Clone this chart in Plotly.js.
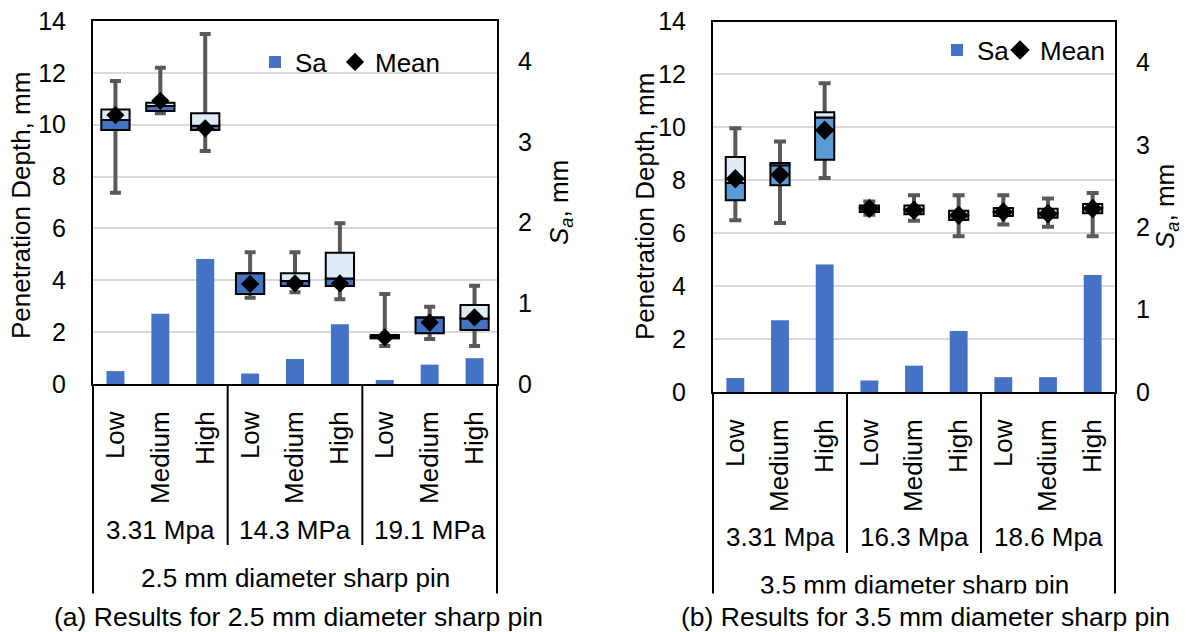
<!DOCTYPE html>
<html>
<head>
<meta charset="utf-8">
<script src="https://cdn.plot.ly/plotly-3.0.1.min.js"></script>
<style>html,body{margin:0;padding:0;background:#fff;}#chart{width:1191px;height:632px;}</style>
</head>
<body>
<div id="chart"></div>
<script>
// ---- data ----
const levels = ['Low', 'Medium', 'High'];

// (a) 2.5 mm pin
const groupsA = ['3.31 Mpa', '14.3 MPa', '19.1 MPa'];
const saA   = [0.16, 0.87, 1.55, 0.13, 0.31, 0.74, 0.05, 0.24, 0.32];
const minA  = [7.38, 10.44, 8.99, 3.33, 3.54, 3.27, 1.47, 1.74, 1.47];
const q1A   = [9.80, 10.53, 9.80, 3.47, 3.78, 3.78, 1.76, 1.96, 2.08];
const medA  = [10.18, 10.72, 9.96, 4.27, 3.97, 4.07, 1.82, 2.56, 2.53];
const q3A   = [10.59, 10.85, 10.44, 4.27, 4.27, 5.06, 1.89, 2.56, 3.05];
const maxA  = [11.69, 12.20, 13.50, 5.08, 5.08, 6.20, 3.47, 2.98, 3.79];
const meanA = [10.37, 10.92, 9.86, 3.86, 3.88, 3.88, 1.80, 2.37, 2.57];

// (b) 3.5 mm pin
const groupsB = ['3.31 Mpa', '16.3 Mpa', '18.6 Mpa'];
const saB   = [0.17, 0.87, 1.55, 0.14, 0.32, 0.74, 0.18, 0.18, 1.42];
const minB  = [6.49, 6.39, 8.09, 6.70, 6.47, 5.89, 6.33, 6.24, 5.89];
const q1B   = [7.25, 7.81, 8.78, 6.80, 6.72, 6.50, 6.65, 6.58, 6.75];
const medB  = [7.90, 8.57, 10.37, 6.95, 6.90, 6.68, 6.80, 6.75, 6.95];
const q3B   = [8.88, 8.65, 10.57, 7.05, 7.05, 6.85, 6.95, 6.92, 7.10];
const maxB  = [9.97, 9.47, 11.67, 7.20, 7.43, 7.43, 7.43, 7.31, 7.52];
const meanB = [8.06, 8.21, 9.89, 6.93, 6.87, 6.68, 6.80, 6.74, 6.93];

const pinA = '2.5 mm diameter sharp pin';
const pinB = '3.5 mm diameter sharp pin';
const captionA = '(a) Results for 2.5 mm diameter sharp pin';
const captionB = '(b) Results for 3.5 mm diameter sharp pin';
const yTitle = 'Penetration Depth, mm';
const y2Title = '<i>S<sub>a</sub></i>, mm';
const primaryTicks = [0, 2, 4, 6, 8, 10, 12, 14];
const secondaryTicks = [0, 1, 2, 3, 4];

// ---- styling ----
const FONT = 'Liberation Sans, Arial, sans-serif';
const SA_COLOR = '#4472C4';
const LIGHT = '#DEEBF7';
const WHISKER = '#595959';

function cats(groups) {
  const x = [], t = [];
  groups.forEach((g, gi) => levels.forEach((l, li) => { x.push(gi * levels.length + li); t.push(l); }));
  return {x, t};
}
const cA = cats(groupsA), cB = cats(groupsB);

function buildTraces(c, sa, mn, q1, md, q3, mx, mean, ax, boxW, darkColor, capW, meanSize, legSa, legMean) {
  const xa = ax.x, yp = ax.yp, ys = ax.ys, yb = ax.yb;
  return [
    { type: 'scatter', mode: 'markers', x: c.x, y: md, xaxis: xa, yaxis: yp,
      marker: {size: 2, color: 'rgba(0,0,0,0)'}, showlegend: false, hoverinfo: 'skip',
      error_y: {type: 'data', symmetric: false,
        array: mx.map((v, i) => v - md[i]), arrayminus: mn.map((v, i) => md[i] - v),
        color: WHISKER, thickness: 4, width: capW} },
    { type: 'bar', x: c.x, base: q1, y: md.map((v, i) => v - q1[i]), xaxis: xa, yaxis: yb,
      width: boxW, marker: {color: darkColor, line: {color: '#000', width: 2}}, showlegend: false, hoverinfo: 'skip' },
    { type: 'bar', x: c.x, base: md, y: q3.map((v, i) => v - md[i]), xaxis: xa, yaxis: yb,
      width: boxW, marker: {color: LIGHT, line: {color: '#000', width: 2}}, showlegend: false, hoverinfo: 'skip' },
    { type: 'bar', name: 'Sa', x: c.x, y: sa, xaxis: xa, yaxis: ys, width: 0.4,
      marker: {color: SA_COLOR, line: {width: 0}}, legend: legSa },
    { type: 'scatter', mode: 'markers', name: 'Mean', x: c.x, y: mean, xaxis: xa, yaxis: yb,
      marker: {symbol: 'diamond', size: meanSize, color: '#000'}, legend: legMean }
  ];
}

const data = [].concat(
  buildTraces(cA, saA, minA, q1A, medA, q3A, maxA, meanA, {x: 'x', yp: 'y', ys: 'y2', yb: 'y3'}, 0.63, '#4472C4', 5.5, 14, 'legend', 'legend3'),
  buildTraces(cB, saB, minB, q1B, medB, q3B, maxB, meanB, {x: 'x2', yp: 'y4', ys: 'y5', yb: 'y6'}, 0.43, '#5B9BD5', 6, 15, 'legend2', 'legend4')
);

const W = 1191, H = 632;
const px = v => v / W, py = v => (H - v) / H;

function xAxis(domain, c, anchor) {
  return { domain, anchor, range: [-0.5, c.x.length - 0.5], tickvals: c.x, ticktext: c.t,
    tickangle: -90, showline: true, mirror: true, linecolor: '#000', linewidth: 2,
    showgrid: false, zeroline: false, ticks: '', ticklabelstandoff: 15,
    tickfont: {size: 26, color: '#000'}, fixedrange: true };
}
function yPrimary(domain, anchor) {
  return { domain, anchor, range: [0, 14], tickvals: primaryTicks, showgrid: true, gridcolor: '#D9D9D9', gridwidth: 2,
    showline: true, mirror: true, linecolor: '#000', linewidth: 2, zeroline: false, ticks: '',
    ticklabelstandoff: 20, tickfont: {size: 25, color: '#000'}, fixedrange: true };
}
function ySecondary(over, anchor) {
  return { overlaying: over, anchor, side: 'right', range: [0, 4.5], tickvals: secondaryTicks,
    showgrid: false, zeroline: false, showline: false, ticks: '', ticklabelstandoff: 20,
    tickfont: {size: 25, color: '#000'}, fixedrange: true };
}
function yBox(over, anchor) {
  return { overlaying: over, anchor, range: [0, 14], visible: false, fixedrange: true };
}

const domA = [py(384), py(21)];
const domB = [py(392), py(21.5)];

function groupAnnotations(groups, xref, yPix) {
  return groups.map((g, gi) => ({ text: g, xref, yref: 'paper', x: gi * levels.length + (levels.length - 1) / 2,
    y: py(yPix), xanchor: 'center', yanchor: 'middle', showarrow: false, font: {size: 26, color: '#000'} }));
}
function separatorShapes(groups, xref, yTopDomain, yEndPix) {
  const s = [];
  for (let gi = 1; gi < groups.length; gi++) {
    const xv = gi * levels.length - 0.5;
    s.push({type: 'line', xref, yref: 'paper', x0: xv, x1: xv, y0: py(yEndPix), y1: yTopDomain,
      line: {color: '#000', width: 2}});
  }
  [0, 1].forEach(d => s.push({type: 'line', xref: xref + ' domain', yref: 'paper', x0: d, x1: d, y0: 0, y1: yTopDomain,
    line: {color: '#000', width: 2}}));
  return s;
}

const annotations = [].concat(
  groupAnnotations(groupsA, 'x', 530),
  groupAnnotations(groupsB, 'x2', 537),
  [
    {text: pinA, xref: 'x', yref: 'paper', x: (cA.x.length - 1) / 2, y: py(578), xanchor: 'center', yanchor: 'middle', showarrow: false, font: {size: 26, color: '#000'}},
    {text: pinB, xref: 'x2', yref: 'paper', x: (cB.x.length - 1) / 2, y: py(585), xanchor: 'center', yanchor: 'middle', showarrow: false, font: {size: 26, color: '#000'}},
    {text: captionA, xref: 'paper', yref: 'paper', x: px(298), y: py(617), xanchor: 'center', yanchor: 'middle', showarrow: false,
      font: {size: 26.5, color: '#000'}, bgcolor: '#fff', borderpad: 8},
    {text: captionB, xref: 'paper', yref: 'paper', x: px(925), y: py(617), xanchor: 'center', yanchor: 'middle', showarrow: false,
      font: {size: 26.5, color: '#000'}, bgcolor: '#fff', borderpad: 8},
    {text: yTitle, xref: 'paper', yref: 'paper', x: px(21), y: py(206), textangle: -90, xanchor: 'center', yanchor: 'middle', showarrow: false, font: {size: 26, color: '#000'}},
    {text: y2Title, xref: 'paper', yref: 'paper', x: px(560), y: py(203), textangle: -90, xanchor: 'center', yanchor: 'middle', showarrow: false, font: {size: 26, color: '#000'}},
    {text: yTitle, xref: 'paper', yref: 'paper', x: px(645), y: py(207), textangle: -90, xanchor: 'center', yanchor: 'middle', showarrow: false, font: {size: 26, color: '#000'}},
    {text: y2Title, xref: 'paper', yref: 'paper', x: px(1167), y: py(207), textangle: -90, xanchor: 'center', yanchor: 'middle', showarrow: false, font: {size: 26, color: '#000'}}
  ]
);

function legendAt(xPix, yPix) {
  return {x: px(xPix), xanchor: 'left', y: py(yPix), yanchor: 'middle', orientation: 'h', bgcolor: 'rgba(0,0,0,0)',
    font: {size: 26, color: '#000'}, itemwidth: 30};
}

const layout = {
  width: W, height: H,
  margin: {l: 0, r: 0, t: 0, b: 0},
  paper_bgcolor: '#fff', plot_bgcolor: 'rgba(0,0,0,0)',
  font: {family: FONT, size: 26, color: '#000'},
  barmode: 'overlay',
  xaxis: xAxis([px(93), px(497)], cA, 'y'),
  yaxis: yPrimary(domA, 'x'),
  yaxis2: ySecondary('y', 'x'),
  yaxis3: yBox('y', 'x'),
  xaxis2: xAxis([px(713), px(1115)], cB, 'y4'),
  yaxis4: yPrimary(domB, 'x2'),
  yaxis5: ySecondary('y4', 'x2'),
  yaxis6: yBox('y4', 'x2'),
  legend: legendAt(255, 62),
  legend3: legendAt(335, 62),
  legend2: legendAt(937, 50),
  legend4: legendAt(1000, 50),
  shapes: [].concat(separatorShapes(groupsA, 'x', domA[0], 545), separatorShapes(groupsB, 'x2', domB[0], 553)),
  annotations,
  showlegend: true
};

Plotly.newPlot('chart', data, layout, {displayModeBar: false, staticPlot: true});
</script>
</body>
</html>
